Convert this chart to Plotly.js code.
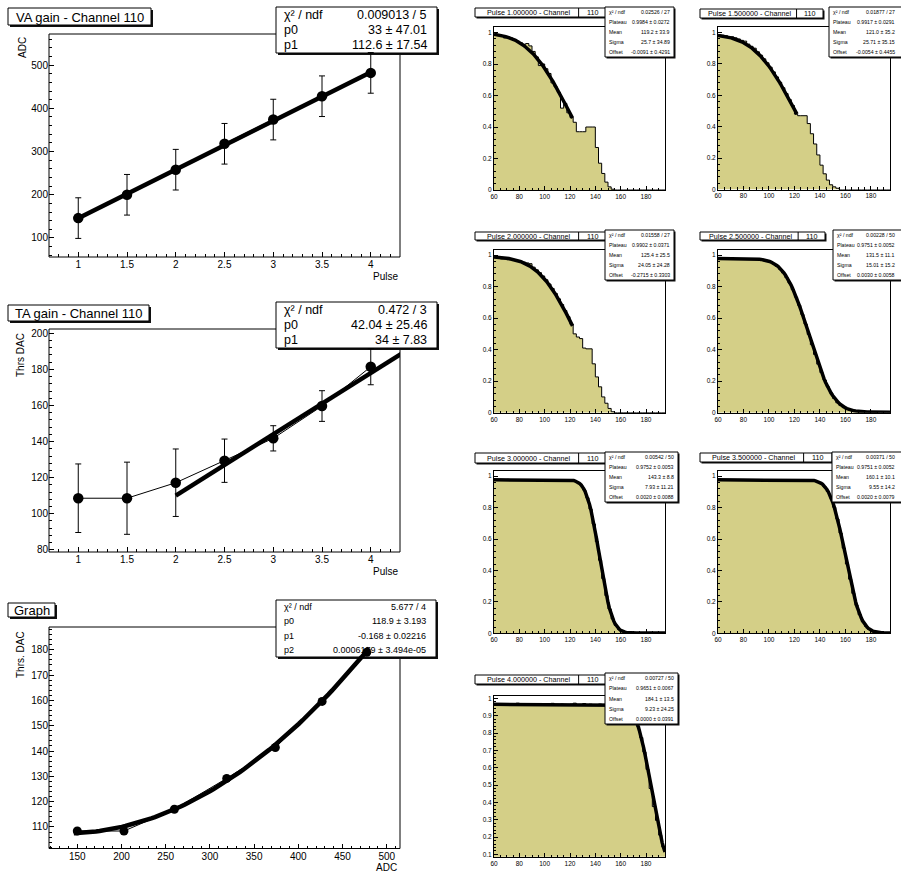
<!DOCTYPE html>
<html><head><meta charset="utf-8">
<script src="https://cdn.plot.ly/plotly-3.0.1.min.js"></script>
<style>html,body{margin:0;padding:0;background:#fff}</style>
</head><body><div id="chart" style="width:901px;height:877px"></div>
<script>
// ---------------- data ----------------
const pulse = [1, 1.5, 2, 2.5, 3, 3.5, 4];
const vaAdc = [146, 200, 258, 318, 374, 428, 482];
const vaErr = [47, 47, 47, 47, 47, 47, 47];
const taDac = [108.6, 108.6, 117.2, 129.4, 141.8, 159.7, 181.5];
const taErr = [19, 20, 18.7, 12, 7, 8.5, 10];
const grAdc = [150, 202.8, 259.8, 319, 374, 426.9, 477.4];
const grDac = [108.4, 108.4, 117, 129.2, 141.4, 159.6, 179];

const vaFitPar = [33, 112.6];            // p0 + p1*x
const vaFitRange = [1, 4];
const taFitPar = [42.04, 34];
const taFitRange = [2, 4.5];
const grFitPar = [118.9, -0.168, 0.0006179]; // p0 + p1*x + p2*x^2
const grFitRange = [146, 480];

const vaStats = [["χ² / ndf", "0.009013 / 5"], ["p0", "33 ± 47.01"], ["p1", "112.6 ± 17.54"]];
const taStats = [["χ² / ndf", "0.472 / 3"], ["p0", "42.04 ± 25.46"], ["p1", "34 ± 7.83"]];
const grStats = [["χ² / ndf", "5.677 / 4"], ["p0", "118.9 ± 3.193"], ["p1", "-0.168 ± 0.02216"], ["p2", "0.0006179 ± 3.494e-05"]];

// efficiency histograms: bins of 2.5 starting at 60
const binLow = 60, binWidth = 2.5;
const pulseTitles = ["Pulse 1.000000 - Channel 110", "Pulse 1.500000 - Channel 110", "Pulse 2.000000 - Channel 110",
  "Pulse 2.500000 - Channel 110", "Pulse 3.000000 - Channel 110", "Pulse 3.500000 - Channel 110", "Pulse 4.000000 - Channel 110"];
const eff1 = [0.99,0.985,0.98,0.965,0.972,0.965,0.955,0.945,0.935,0.925,0.93,0.915,0.88,0.845,0.79,0.80,0.77,0.74,0.68,0.655,0.62,0.52,0.55,0.49,0.46,0.43,0.37,0.37,0.37,0.40,0.40,0.40,0.27,0.17,0.105,0.05,0.02,0.005,0,0,0,0,0,0,0,0,0,0,0,0,0,0,0,0];
const eff2 = [0.985,0.983,0.98,0.97,0.972,0.966,0.959,0.95,0.945,0.926,0.912,0.9,0.877,0.855,0.832,0.807,0.779,0.749,0.717,0.683,0.648,0.611,0.573,0.535,0.48,0.47,0.47,0.47,0.42,0.355,0.29,0.22,0.155,0.10,0.06,0.03,0.017,0.008,0,0,0,0,0,0,0,0,0,0,0,0,0,0,0,0];
const eff3 = [0.985,0.98,0.975,0.975,0.97,0.972,0.968,0.965,0.96,0.955,0.95,0.945,0.923,0.906,0.888,0.867,0.843,0.816,0.788,0.756,0.722,0.686,0.648,0.609,0.56,0.50,0.48,0.47,0.41,0.405,0.405,0.31,0.227,0.164,0.10,0.06,0.027,0.006,0,0,0,0,0,0,0,0,0,0,0,0,0,0,0,0];
const eff4 = [0.975,0.972,0.976,0.974,0.978,0.973,0.975,0.977,0.974,0.977,0.976,0.975,0.974,0.971,0.967,0.962,0.954,0.944,0.928,0.910,0.886,0.857,0.822,0.780,0.733,0.681,0.623,0.562,0.497,0.431,0.369,0.308,0.254,0.207,0.164,0.125,0.09,0.063,0.045,0.032,0.022,0.015,0.01,0.007,0.005,0.004,0.003,0.002,0.002,0.001,0,0,0,0];
const eff5 = [0.975,0.978,0.974,0.976,0.98,0.977,0.975,0.976,0.979,0.974,0.976,0.977,0.975,0.973,0.976,0.978,0.975,0.974,0.977,0.976,0.975,0.977,0.974,0.976,0.975,0.968,0.960,0.944,0.912,0.863,0.790,0.696,0.583,0.465,0.348,0.240,0.155,0.091,0.050,0.025,0.012,0.005,0.002,0,0,0.002,0,0,0.004,0.006,0.002,0,0,0];
const eff6 = [0.976,0.975,0.978,0.974,0.977,0.975,0.976,0.979,0.974,0.976,0.975,0.977,0.974,0.976,0.975,0.978,0.976,0.974,0.977,0.975,0.976,0.979,0.975,0.974,0.977,0.976,0.975,0.978,0.974,0.973,0.969,0.963,0.951,0.932,0.903,0.861,0.802,0.728,0.638,0.542,0.441,0.344,0.254,0.178,0.118,0.074,0.044,0.025,0.013,0.007,0.003,0.001,0,0];
const eff7 = [0.968,0.962,0.966,0.965,0.963,0.967,0.964,0.972,0.965,0.962,0.966,0.964,0.967,0.963,0.97,0.965,0.962,0.966,0.971,0.964,0.963,0.967,0.965,0.962,0.966,0.972,0.964,0.965,0.97,0.963,0.966,0.964,0.962,0.967,0.965,0.963,0.966,0.964,0.965,0.962,0.958,0.952,0.939,0.919,0.886,0.839,0.774,0.691,0.59,0.48,0.376,0.296,0.211,0.143];
const effHists = [eff1, eff2, eff3, eff4, eff5, eff6, eff7];

// erf fit parameters (Plateau, Mean, Sigma, Offset) and drawn fit range
const effPlateau = [1.0, 0.99, 0.99, 0.975, 0.975, 0.975, 0.965];
const effMean = [119.2, 121.0, 125.4, 131.5, 143.3, 160.1, 184.1];
const effSigma = [25.7, 25.7, 24.0, 15.0, 7.93, 9.55, 9.23];
const effOffset = [0, 0, 0, 0.003, 0.002, 0.002, 0];
const effFitMax = [122, 122, 122, 195, 195, 195, 195];
const effStats = [
  [["χ² / ndf","0.02526 / 27"],["Plateau","0.9984 ± 0.0272"],["Mean","119.2 ± 33.9"],["Sigma","25.7 ± 34.89"],["Offset","-0.0091 ± 0.4291"]],
  [["χ² / ndf","0.01877 / 27"],["Plateau","0.9917 ± 0.0291"],["Mean","121.0 ± 35.2"],["Sigma","25.71 ± 35.15"],["Offset","-0.0054 ± 0.4455"]],
  [["χ² / ndf","0.01558 / 27"],["Plateau","0.9902 ± 0.0371"],["Mean","125.4 ± 25.5"],["Sigma","24.05 ± 24.28"],["Offset","-0.2715 ± 0.3303"]],
  [["χ² / ndf","0.00228 / 50"],["Plateau","0.9751 ± 0.0052"],["Mean","131.5 ± 11.1"],["Sigma","15.01 ± 15.2"],["Offset","0.0030 ± 0.0058"]],
  [["χ² / ndf","0.00542 / 50"],["Plateau","0.9752 ± 0.0053"],["Mean","143.3 ± 8.8"],["Sigma","7.93 ± 11.21"],["Offset","0.0020 ± 0.0088"]],
  [["χ² / ndf","0.00371 / 50"],["Plateau","0.9751 ± 0.0052"],["Mean","160.1 ± 10.1"],["Sigma","9.55 ± 14.2"],["Offset","0.0020 ± 0.0079"]],
  [["χ² / ndf","0.00727 / 50"],["Plateau","0.9651 ± 0.0067"],["Mean","184.1 ± 13.5"],["Sigma","9.23 ± 24.25"],["Offset","0.0000 ± 0.0391"]]
];

// ---------------- helpers ----------------
const W = 901, H = 877;
const fx = p => p / W, fy = p => 1 - p / H;
const FONT = '"Liberation Sans", Arial, Helvetica, sans-serif';
function erf(x){const s=Math.sign(x);x=Math.abs(x);const t=1/(1+0.3275911*x);
  const y=1-(((((1.061405429*t-1.453152027)*t)+1.421413741)*t-0.284496736)*t+0.254829592)*t*Math.exp(-x*x);return s*y;}
function samples(a,b,n){const o=[];for(let i=0;i<=n;i++)o.push(a+(b-a)*i/n);return o;}
function poly(par,x){let v=0;for(let k=par.length-1;k>=0;k--)v=v*x+par[k];return v;}

const layout = {width:W, height:H, margin:{l:0,r:0,t:0,b:0}, paper_bgcolor:'#fff', plot_bgcolor:'rgba(0,0,0,0)',
  showlegend:false, shapes:[], annotations:[], font:{family:FONT, color:'#000'}};
const traces = [];

function pave(x0,y0,x1,y1,layer,sh){
  sh = sh===undefined?2:sh;
  layout.shapes.push({type:'rect',xref:'paper',yref:'paper',x0:fx(x0+sh),x1:fx(x1+sh),y0:fy(y1+sh),y1:fy(y0+sh),fillcolor:'#111',line:{width:0},layer});
  layout.shapes.push({type:'rect',xref:'paper',yref:'paper',x0:fx(x0),x1:fx(x1),y0:fy(y1),y1:fy(y0),fillcolor:'#fff',line:{color:'#000',width:1},layer});
}
function txt(px,py,text,size,anchor,extra){
  layout.annotations.push(Object.assign({xref:'paper',yref:'paper',x:fx(px),y:fy(py),text,showarrow:false,
    xanchor:anchor||'center',yanchor:'middle',font:{size,family:FONT,color:'#000'},borderpad:0},extra||{}));
}
function axes(n,fr,xr,yr,xd,xm,yd,ym,fs,tl,showline){
  const sx = n===1?'':String(n);
  const common = {showgrid:false,zeroline:false,ticks:'inside',tickcolor:'#000',tickwidth:1,ticklen:tl,
    showline:showline,mirror:showline?true:false,linecolor:'#000',linewidth:1,fixedrange:true,automargin:false,
    tickfont:{size:fs,family:FONT,color:'#000'},tick0:0};
  layout['xaxis'+sx] = Object.assign({},common,{domain:[fx(fr[0]),fx(fr[1])],range:xr,anchor:'y'+sx,dtick:xd,
    minor:{ticks:'inside',ticklen:tl*0.55,dtick:xm,tick0:0,tickcolor:'#000',tickwidth:1,showgrid:false}});
  layout['yaxis'+sx] = Object.assign({},common,{domain:[fy(fr[3]),fy(fr[2])],range:yr,anchor:'x'+sx,dtick:yd,
    minor:{ticks:'inside',ticklen:tl*0.55,dtick:ym,tick0:0,tickcolor:'#000',tickwidth:1,showgrid:false}});
  if(!showline){
    layout.shapes.push({type:'rect',xref:'paper',yref:'paper',x0:fx(fr[0]),x1:fx(fr[1]),y0:fy(fr[3]),y1:fy(fr[2]),
      line:{color:'#000',width:1},fillcolor:'rgba(0,0,0,0)',layer:'below'});
  }
  return {x:'x'+sx,y:'y'+sx};
}

// ---------------- left column ----------------
const leftPanels = [
  {n:1, fr:[49,400,34,257], xr:[0.7,4.3], yr:[56,572], xd:0.5, xm:0.1, yd:100, ym:20,
   x:pulse, y:vaAdc, err:vaErr, fit:vaFitPar, fr2:vaFitRange, ms:10.5,
   title:"VA gain - Channel 110", tbox:[8,8,151,25], stats:vaStats, sbox:[276,7,437,53], sfs:12.5,
   ytitle:"ADC", ytpos:[22,48], xtitle:"Pulse", xtpos:[399,276]},
  {n:2, fr:[49,400,329,552], xr:[0.7,4.3], yr:[78.8,202.4], xd:0.5, xm:0.1, yd:20, ym:4,
   x:pulse, y:taDac, err:taErr, fit:taFitPar, fr2:taFitRange, ms:10.5,
   title:"TA gain - Channel 110", tbox:[8,305,149,321], stats:taStats, sbox:[276,302,437,348], sfs:12.5,
   ytitle:"Thrs DAC", ytpos:[20,355], xtitle:"Pulse", xtpos:[399,571]},
  {n:3, fr:[49,400,627,848.5], xr:[118,515], yr:[101.5,189], xd:50, xm:10, yd:10, ym:2,
   x:grAdc, y:grDac, err:null, fit:grFitPar, fr2:grFitRange, ms:9,
   title:"Graph", tbox:[8,603,55,617], stats:grStats, sbox:[276,600,436,657], sfs:9,
   ytitle:"Thrs. DAC", ytpos:[20,655], xtitle:"ADC", xtpos:[398,867]}
];
leftPanels.forEach(p=>{
  const ax = axes(p.n,p.fr,p.xr,p.yr,p.xd,p.xm,p.yd,p.ym,10,5,false);
  const tr = {x:p.x,y:p.y,mode:'lines+markers',line:{color:'#000',width:1},marker:{color:'#000',size:p.ms},
    xaxis:ax.x,yaxis:ax.y,cliponaxis:true};
  if(p.err) tr.error_y = {type:'data',array:p.err,visible:true,color:'#000',thickness:1,width:3};
  traces.push(tr);
  const fxs = samples(p.fr2[0],p.fr2[1],80);
  traces.push({x:fxs,y:fxs.map(v=>poly(p.fit,v)),mode:'lines',line:{color:'#000',width:4.5},xaxis:ax.x,yaxis:ax.y});
  // title box
  pave(p.tbox[0],p.tbox[1],p.tbox[2],p.tbox[3],'below');
  txt((p.tbox[0]+p.tbox[2])/2,(p.tbox[1]+p.tbox[3])/2+0.5,p.title,13);
  // stats box
  const b = p.sbox; pave(b[0],b[1],b[2],b[3],'below');
  const nr = p.stats.length, rh = (b[3]-b[1])/nr;
  p.stats.forEach((r,k)=>{
    const yy = b[1]+rh*(k+0.5);
    txt(b[0]+7,yy,r[0],p.sfs,'left');
    txt(b[2]-9,yy,r[1],p.sfs,'right');
  });
  txt(p.ytpos[0],p.ytpos[1],p.ytitle,10,'center',{textangle:-90});
  txt(p.xtpos[0],p.xtpos[1],p.xtitle,10,'right');
});

// ---------------- right column ----------------
const frames = [[494,665,27,190],[718,890,27,189.5],[494,665,249.5,412.7],[718,890,249.5,412.7],
  [494,665,470.7,633.3],[718,890,470.7,633.3],[494,665,695.7,856.7]];
const tboxes = [[475,8,607,17],[700,9,823,18],[475,232,607,240],[700,232,825,240],[475,453,607,463],[700,453,832,462],[475,675,607,684]];
const sboxes = [[605,7,674,57],[829,7,905,57],[605,230,674,280],[833,230,905,280],[605,452,678,502],[832,452,905,502],[605,673,678,724]];
const KHAKI = '#d4cf87';
effHists.forEach((h,i)=>{
  const n = 4+i;
  const isLast = i===6;
  const yr = isLast?[0.087,1.015]:[0,1.035];
  const ax = axes(n,frames[i],[60,195],yr,20,5,isLast?0.1:0.2,isLast?0.02:0.04,6.5,4,true);
  const xe = h.map((v,k)=>binLow+k*binWidth); xe.push(binLow+h.length*binWidth);
  const ye = h.slice(); ye.push(h[h.length-1]);
  traces.push({x:xe,y:ye,mode:'lines',line:{shape:'hv',color:'#000',width:1},fill:'tozeroy',fillcolor:KHAKI,xaxis:ax.x,yaxis:ax.y});
  const xs = samples(60,effFitMax[i],120);
  const ys = xs.map(x=>effOffset[i]+effPlateau[i]*0.5*(1-erf((x-effMean[i])/(Math.SQRT2*effSigma[i]))));
  traces.push({x:xs,y:ys,mode:'lines',line:{color:'#000',width:3.5},xaxis:ax.x,yaxis:ax.y});
  const t = tboxes[i];
  pave(t[0],t[1],t[2],t[3],'above',1.5);
  txt(t[0]+(t[2]-t[0])*0.41,(t[1]+t[3])/2+0.3,pulseTitles[i].replace(' 110',''),7.2);
  txt(t[0]+(t[2]-t[0])*0.89,(t[1]+t[3])/2+0.3,'110',7.2);
  const lx = t[0]+(t[2]-t[0])*0.785;
  layout.shapes.push({type:'line',xref:'paper',yref:'paper',x0:fx(lx),x1:fx(lx),y0:fy(t[3]),y1:fy(t[1]),line:{color:'#000',width:1},layer:'above'});
  const b = sboxes[i];
  pave(b[0],b[1],b[2],b[3],'above',1.5);
  const rh = (b[3]-b[1])/5;
  effStats[i].forEach((r,k)=>{
    const yy = b[1]+rh*(k+0.5);
    txt(b[0]+3,yy,r[0],5.2,'left');
    txt(Math.min(b[2],899)-3,yy,r[1],5.2,'right');
  });
});

Plotly.newPlot('chart', traces, layout, {staticPlot:true, displayModeBar:false});
</script></body></html>
